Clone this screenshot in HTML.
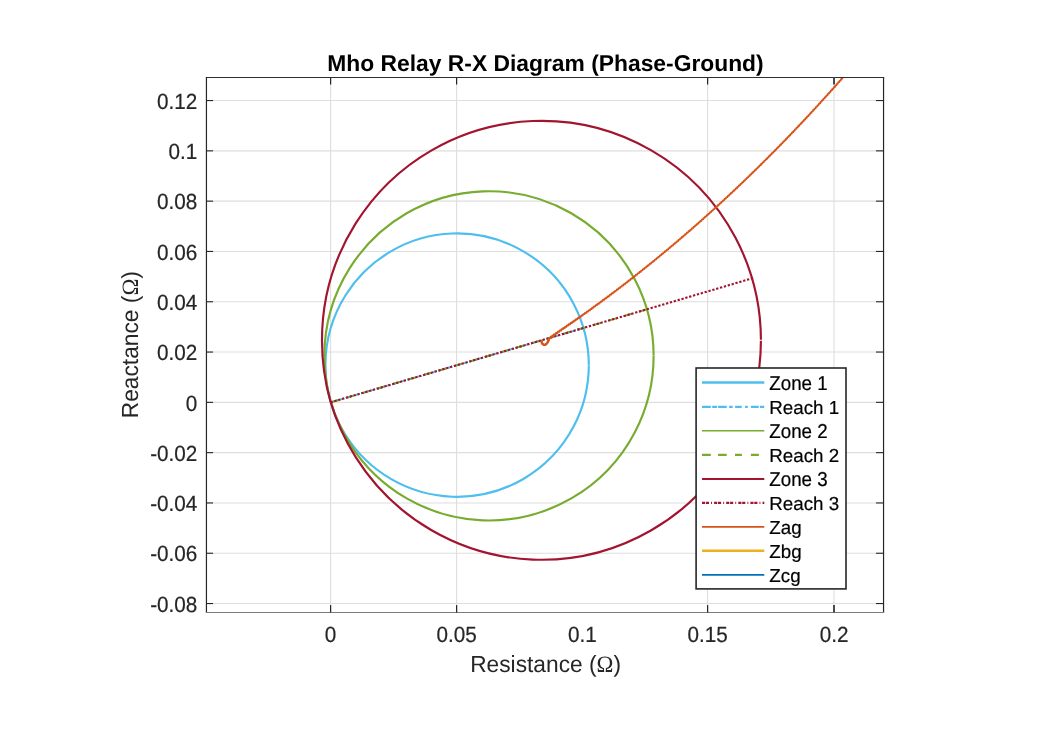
<!DOCTYPE html>
<html><head><meta charset="utf-8"><title>Mho Relay R-X Diagram (Phase-Ground)</title>
<style>
html,body{margin:0;padding:0;background:#fff;}
body{width:1061px;height:748px;overflow:hidden;}
svg{display:block;}
text{font-family:"Liberation Sans",Arial,Helvetica,sans-serif;fill:#262626;text-rendering:geometricPrecision;}
.tk{font-size:20.7px;stroke:#262626;stroke-width:0.2px;}
.lb{font-size:22.75px;}
.om{font-family:"Liberation Serif","DejaVu Serif",serif;}
.tt{font-size:22.83px;font-weight:bold;fill:#000;}
.lg{font-size:18.75px;fill:#000;stroke:#000;stroke-width:0.2px;}
</style></head><body>
<svg width="1061" height="748" viewBox="0 0 1061 748">
<rect x="0" y="0" width="1061" height="748" fill="#fff"/>
<defs><clipPath id="ax"><rect x="206.45" y="77.5" width="677.0999999999999" height="535.0"/></clipPath></defs>

<g stroke="#dedede" stroke-width="1.1" fill="none">
<line x1="330.60" y1="77.5" x2="330.60" y2="612.5"/>
<line x1="456.60" y1="77.5" x2="456.60" y2="612.5"/>
<line x1="707.60" y1="77.5" x2="707.60" y2="612.5"/>
<line x1="834.00" y1="77.5" x2="834.00" y2="612.5"/>
<line x1="206.45" y1="603.55" x2="883.55" y2="603.55"/>
<line x1="206.45" y1="553.25" x2="883.55" y2="553.25"/>
<line x1="206.45" y1="502.95" x2="883.55" y2="502.95"/>
<line x1="206.45" y1="452.65" x2="883.55" y2="452.65"/>
<line x1="206.45" y1="402.35" x2="883.55" y2="402.35"/>
<line x1="206.45" y1="352.05" x2="883.55" y2="352.05"/>
<line x1="206.45" y1="301.75" x2="883.55" y2="301.75"/>
<line x1="206.45" y1="251.45" x2="883.55" y2="251.45"/>
<line x1="206.45" y1="201.15" x2="883.55" y2="201.15"/>
<line x1="206.45" y1="150.85" x2="883.55" y2="150.85"/>
<line x1="206.45" y1="100.55" x2="883.55" y2="100.55"/>
</g>
<g clip-path="url(#ax)" fill="none" stroke-linecap="butt" stroke-linejoin="round">
<path d="M588.81,365.03 A131.68,131.68 0 1 0 588.81,365.23" stroke="#4DBEEE" stroke-width="2.15"/>
<line x1="330.5" y1="402.4" x2="583.16" y2="328.06" stroke="#4DBEEE" stroke-width="1.9" stroke-dasharray="8.1 2 4 1.98"/>
<path d="M653.62,355.79 A164.61,164.61 0 1 0 653.62,355.89" stroke="#77AC30" stroke-width="2.15"/>
<line x1="330.5" y1="402.4" x2="646.33" y2="309.47" stroke="#77AC30" stroke-width="1.9" stroke-dasharray="8.5 7.58"/>
<path d="M760.92,339.80 A219.47,219.47 0 1 0 760.92,340.80" stroke="#A2142F" stroke-width="2.15"/>
<line x1="330.5" y1="402.4" x2="753.23" y2="278.02" stroke="#A2142F" stroke-width="2.1" stroke-dasharray="2.3 1.72"/>
<path d="M541.70,340.50 L541.61,341.59 L541.81,342.67 L542.30,343.64 L543.11,344.37 L544.09,344.85 L545.14,344.84 L546.06,344.29 L546.80,343.48 L547.43,342.58 L547.98,341.63 L548.41,340.61 L549.32,339.82 L548.84,338.30 L550.41,338.19 L550.53,336.65 L552.08,336.90 L552.35,335.37 L553.87,335.64 L554.16,334.13 L555.67,334.35 L555.96,332.86 L557.46,333.10 L557.80,331.63 L559.27,331.85 L559.62,330.41 L561.09,330.61 L561.45,329.18 L562.90,329.36 L563.27,327.95 L564.71,328.11 L565.09,326.71 L566.52,326.86 L566.91,325.48 L568.33,325.60 L568.72,324.23 L570.14,324.35 L570.54,322.99 L571.94,323.08 L572.35,321.74 L573.74,321.82 L574.15,320.49 L575.54,320.56 L575.96,319.23 L577.34,319.29 L577.76,317.98 L579.14,318.02 L579.57,316.71 L580.93,316.74 L581.37,315.45 L582.72,315.46 L583.16,314.18 L584.51,314.18 L584.96,312.91 L586.30,312.90 L586.75,311.63 L588.09,311.62 L588.54,310.36 L589.87,310.33 L590.33,309.08 L591.66,309.04 L592.11,307.79 L593.44,307.75 L593.90,306.51 L595.21,306.45 L595.68,305.21 L596.99,305.15 L597.46,303.92 L598.77,303.85 L599.23,302.62 L600.54,302.54 L601.01,301.33 L602.31,301.24 L602.78,300.02 L604.08,299.93 L604.55,298.72 L605.84,298.61 L606.32,297.41 L607.61,297.30 L608.08,296.10 L609.37,295.98 L609.85,294.78 L611.13,294.66 L611.61,293.47 L612.89,293.34 L613.37,292.15 L614.64,292.01 L615.12,290.82 L616.40,290.68 L616.88,289.50 L618.15,289.35 L618.63,288.17 L619.90,288.01 L620.38,286.83 L621.64,286.68 L622.13,285.50 L623.39,285.34 L623.87,284.16 L625.13,283.99 L625.62,282.82 L626.88,282.65 L627.36,281.48 L628.61,281.30 L629.10,280.13 L630.35,279.95 L630.84,278.78 L632.08,278.59 L632.57,277.43 L633.82,277.24 L634.30,276.07 L635.55,275.88 L636.03,274.71 L637.28,274.52 L637.76,273.36 L639.00,273.15 L639.49,271.99 L640.73,271.78 L641.21,270.63 L642.45,270.41 L642.93,269.26 L644.17,269.04 L644.65,267.88 L645.89,267.67 L646.37,266.51 L647.60,266.29 L648.08,265.13 L649.32,264.91 L649.80,263.75 L651.03,263.52 L651.51,262.37 L652.74,262.14 L653.21,260.98 L654.44,260.75 L654.92,259.59 L656.15,259.36 L656.63,258.20 L657.85,257.96 L658.33,256.81 L659.55,256.57 L660.03,255.41 L661.25,255.17 L661.72,254.01 L662.94,253.76 L663.42,252.61 L664.64,252.36 L665.11,251.21 L666.33,250.95 L666.80,249.80 L668.02,249.54 L668.49,248.39 L669.71,248.13 L670.18,246.98 L671.39,246.72 L671.86,245.57 L673.07,245.30 L673.54,244.15 L674.76,243.88 L675.22,242.73 L676.43,242.46 L676.90,241.30 L678.11,241.03 L678.58,239.88 L679.79,239.60 L680.25,238.45 L681.46,238.17 L681.92,237.02 L683.13,236.74 L683.59,235.59 L684.79,235.30 L685.25,234.15 L686.46,233.87 L686.92,232.71 L688.12,232.43 L688.58,231.27 L689.79,230.98 L690.24,229.83 L691.44,229.54 L691.90,228.38 L693.10,228.09 L693.55,226.94 L694.76,226.64 L695.21,225.49 L696.41,225.19 L696.86,224.03 L698.06,223.73 L698.51,222.58 L699.71,222.27 L700.15,221.12 L701.35,220.81 L701.80,219.66 L703.00,219.35 L703.44,218.19 L704.64,217.89 L705.08,216.73 L706.28,216.42 L706.72,215.26 L707.92,214.95 L708.36,213.79 L709.55,213.48 L709.99,212.32 L711.18,212.00 L711.62,210.84 L712.82,210.52 L713.25,209.37 L714.44,209.04 L714.88,207.89 L716.07,207.56 L716.50,206.40 L717.69,206.08 L718.12,204.92 L719.32,204.59 L719.75,203.43 L720.94,203.10 L721.36,201.94 L722.55,201.61 L722.98,200.45 L724.17,200.12 L724.59,198.95 L725.78,198.62 L726.21,197.46 L727.40,197.12 L727.82,195.96 L729.00,195.62 L729.42,194.46 L730.61,194.12 L731.03,192.96 L732.22,192.61 L732.63,191.45 L733.82,191.10 L734.23,189.94 L735.42,189.60 L735.83,188.43 L737.02,188.08 L737.43,186.92 L738.62,186.57 L739.02,185.40 L740.21,185.05 L740.62,183.88 L741.80,183.53 L742.21,182.37 L743.39,182.01 L743.79,180.84 L744.98,180.49 L745.38,179.32 L746.56,178.96 L746.96,177.79 L748.15,177.43 L748.55,176.26 L749.73,175.90 L750.13,174.73 L751.31,174.37 L751.70,173.20 L752.88,172.84 L753.28,171.67 L754.46,171.30 L754.85,170.13 L756.03,169.76 L756.42,168.59 L757.60,168.22 L757.99,167.05 L759.17,166.68 L759.56,165.50 L760.74,165.13 L761.12,163.96 L762.30,163.58 L762.69,162.41 L763.86,162.03 L764.25,160.86 L765.42,160.48 L765.80,159.31 L766.98,158.93 L767.36,157.75 L768.54,157.37 L768.91,156.20 L770.09,155.81 L770.47,154.64 L771.64,154.25 L772.02,153.08 L773.19,152.69 L773.56,151.51 L774.74,151.12 L775.11,149.95 L776.28,149.56 L776.65,148.38 L777.82,147.99 L778.19,146.81 L779.37,146.42 L779.73,145.24 L780.90,144.85 L781.27,143.67 L782.44,143.27 L782.81,142.09 L783.97,141.69 L784.34,140.51 L785.51,140.11 L785.87,138.93 L787.04,138.53 L787.40,137.35 L788.57,136.95 L788.92,135.77 L790.09,135.37 L790.45,134.18 L791.62,133.78 L791.97,132.60 L793.14,132.19 L793.49,131.01 L794.66,130.60 L795.01,129.41 L796.17,129.00 L796.53,127.82 L797.69,127.41 L798.04,126.23 L799.20,125.81 L799.55,124.63 L800.72,124.21 L801.06,123.03 L802.23,122.61 L802.57,121.43 L803.73,121.01 L804.08,119.82 L805.24,119.41 L805.58,118.22 L806.74,117.80 L807.08,116.61 L808.24,116.19 L808.58,115.00 L809.74,114.58 L810.08,113.39 L811.24,112.97 L811.58,111.78 L812.73,111.35 L813.07,110.16 L814.23,109.73 L814.56,108.55 L815.72,108.12 L816.05,106.93 L817.21,106.50 L817.54,105.31 L818.69,104.87 L819.02,103.68 L820.18,103.25 L820.51,102.06 L821.66,101.62 L821.99,100.43 L823.14,100.00 L823.47,98.81 L824.62,98.37 L824.94,97.18 L826.10,96.74 L826.42,95.54 L827.57,95.10 L827.89,93.91 L829.04,93.47 L829.36,92.28 L830.51,91.83 L830.83,90.64 L831.98,90.19 L832.30,89.00 L833.45,88.55 L833.76,87.36 L834.92,86.91 L835.23,85.72 L836.38,85.27 L836.69,84.07 L837.84,83.62 L838.15,82.43 L839.30,81.97 L839.60,80.78 L840.75,80.32 L841.06,79.13 L842.21,78.67 L842.51,77.48 L843.66,77.02 L843.96,75.82 L845.11,75.37 L845.41,74.17 L846.56,73.71 L846.86,72.51 L848.01,72.05 L848.31,70.85 L849.45,70.39 L849.75,69.20" stroke="#D95319" stroke-width="1.85"/>
<path d="M541.70,340.50 L541.61,341.59 L541.81,342.67 L542.30,343.64 L543.11,344.37 L544.09,344.85 L545.14,344.84 L546.06,344.29 L546.80,343.48 L547.43,342.58 L547.98,341.63 L548.41,340.61 L549.32,339.82" stroke="#D95319" stroke-width="2.4"/>
</g>
<g stroke="#262626" stroke-width="1.1" fill="none">
<line x1="206.45" y1="76.9" x2="206.45" y2="612.9" stroke-width="1.2"/>
<line x1="883.55" y1="76.9" x2="883.55" y2="612.9" stroke-width="1.2"/>
<line x1="205.85" y1="77.5" x2="884.15" y2="77.5" stroke-width="1.2" stroke="#2e2e2e"/>
<line x1="205.95" y1="612.5" x2="884.05" y2="612.5" stroke-width="1" stroke="#7d7d7d"/>
<line x1="330.60" y1="612.5" x2="330.60" y2="605.1" stroke-width="1.25" stroke="#262626"/>
<line x1="330.60" y1="77.5" x2="330.60" y2="84.5" stroke-width="1.25" stroke="#262626"/>
<line x1="456.60" y1="612.5" x2="456.60" y2="605.1" stroke-width="1.25" stroke="#262626"/>
<line x1="456.60" y1="77.5" x2="456.60" y2="84.5" stroke-width="1.25" stroke="#262626"/>
<line x1="707.60" y1="612.5" x2="707.60" y2="605.1" stroke-width="1.25" stroke="#262626"/>
<line x1="707.60" y1="77.5" x2="707.60" y2="84.5" stroke-width="1.25" stroke="#262626"/>
<line x1="834.00" y1="612.5" x2="834.00" y2="605.1" stroke-width="2.0" stroke="#4a4a4a"/>
<line x1="834.00" y1="77.5" x2="834.00" y2="84.5" stroke-width="2.0" stroke="#4a4a4a"/>
<line x1="206.45" y1="603.55" x2="213.04999999999998" y2="603.55"/>
<line x1="883.55" y1="603.55" x2="876.05" y2="603.55"/>
<line x1="206.45" y1="553.25" x2="213.04999999999998" y2="553.25"/>
<line x1="883.55" y1="553.25" x2="876.05" y2="553.25"/>
<line x1="206.45" y1="502.95" x2="213.04999999999998" y2="502.95"/>
<line x1="883.55" y1="502.95" x2="876.05" y2="502.95"/>
<line x1="206.45" y1="452.65" x2="213.04999999999998" y2="452.65"/>
<line x1="883.55" y1="452.65" x2="876.05" y2="452.65"/>
<line x1="206.45" y1="402.35" x2="213.04999999999998" y2="402.35"/>
<line x1="883.55" y1="402.35" x2="876.05" y2="402.35"/>
<line x1="206.45" y1="352.05" x2="213.04999999999998" y2="352.05"/>
<line x1="883.55" y1="352.05" x2="876.05" y2="352.05"/>
<line x1="206.45" y1="301.75" x2="213.04999999999998" y2="301.75"/>
<line x1="883.55" y1="301.75" x2="876.05" y2="301.75"/>
<line x1="206.45" y1="251.45" x2="213.04999999999998" y2="251.45"/>
<line x1="883.55" y1="251.45" x2="876.05" y2="251.45"/>
<line x1="206.45" y1="201.15" x2="213.04999999999998" y2="201.15"/>
<line x1="883.55" y1="201.15" x2="876.05" y2="201.15"/>
<line x1="206.45" y1="150.85" x2="213.04999999999998" y2="150.85"/>
<line x1="883.55" y1="150.85" x2="876.05" y2="150.85"/>
<line x1="206.45" y1="100.55" x2="213.04999999999998" y2="100.55"/>
<line x1="883.55" y1="100.55" x2="876.05" y2="100.55"/>
</g>
<text class="tk" transform="translate(330.60,641.9) scale(1,1.06)" text-anchor="middle">0</text>
<text class="tk" transform="translate(456.60,641.9) scale(1,1.06)" text-anchor="middle">0.05</text>
<text class="tk" transform="translate(582.30,641.9) scale(1,1.06)" text-anchor="middle">0.1</text>
<text class="tk" transform="translate(707.60,641.9) scale(1,1.06)" text-anchor="middle">0.15</text>
<text class="tk" transform="translate(834.00,641.9) scale(1,1.06)" text-anchor="middle">0.2</text>
<text class="tk" transform="translate(197.3,611.75) scale(1,1.06)" text-anchor="end">-0.08</text>
<text class="tk" transform="translate(197.3,561.45) scale(1,1.06)" text-anchor="end">-0.06</text>
<text class="tk" transform="translate(197.3,511.15) scale(1,1.06)" text-anchor="end">-0.04</text>
<text class="tk" transform="translate(197.3,460.85) scale(1,1.06)" text-anchor="end">-0.02</text>
<text class="tk" transform="translate(197.3,410.55) scale(1,1.06)" text-anchor="end">0</text>
<text class="tk" transform="translate(197.3,360.25) scale(1,1.06)" text-anchor="end">0.02</text>
<text class="tk" transform="translate(197.3,309.95) scale(1,1.06)" text-anchor="end">0.04</text>
<text class="tk" transform="translate(197.3,259.65) scale(1,1.06)" text-anchor="end">0.06</text>
<text class="tk" transform="translate(197.3,209.35) scale(1,1.06)" text-anchor="end">0.08</text>
<text class="tk" transform="translate(197.3,159.05) scale(1,1.06)" text-anchor="end">0.1</text>
<text class="tk" transform="translate(197.3,108.75) scale(1,1.06)" text-anchor="end">0.12</text>
<text class="lb" transform="translate(545.6,671.6) scale(1,1.025)" text-anchor="middle">Resistance (<tspan class="om">Ω</tspan>)</text>
<text class="lb" transform="translate(138.3,344.7) rotate(-90) scale(1,1.025)" text-anchor="middle">Reactance (<tspan class="om">Ω</tspan>)</text>
<text class="tt" transform="translate(545.5,71)" text-anchor="middle">Mho Relay R-X Diagram (Phase-Ground)</text>
<rect x="696.1" y="368.0" width="149.9" height="220.9" fill="#fff" stroke="#262626" stroke-width="1.6"/>
<line x1="702" y1="382.5" x2="764.3" y2="382.5" stroke="#4DBEEE" stroke-width="2.6"/>
<text class="lg" transform="translate(769.3,389.95) scale(1,1.075)">Zone 1</text>
<line x1="702" y1="406.9" x2="764.3" y2="406.9" stroke="#4DBEEE" stroke-width="2.2" stroke-dasharray="8.8 1.4 4.7 1.2 8.6 2.4 3.6 2.4 6.6 3.4 2.7 3.1 7.8 1.3 4.2 9"/>
<text class="lg" transform="translate(769.3,414.05) scale(1,1.0)">Reach 1</text>
<line x1="702" y1="430.8" x2="764.3" y2="430.8" stroke="#77AC30" stroke-width="1.5"/>
<text class="lg" transform="translate(769.3,438.25) scale(1,1.075)">Zone 2</text>
<line x1="702" y1="454.9" x2="764.3" y2="454.9" stroke="#77AC30" stroke-width="2.3" stroke-dasharray="8.8 7.3 8.6 8.3 6.9 9 8 20"/>
<text class="lg" transform="translate(769.3,462.05) scale(1,1.0)">Reach 2</text>
<line x1="702" y1="479.0" x2="764.3" y2="479.0" stroke="#A2142F" stroke-width="1.9"/>
<text class="lg" transform="translate(769.3,486.45) scale(1,1.075)">Zone 3</text>
<line x1="702" y1="502.9" x2="764.3" y2="502.9" stroke="#A2142F" stroke-width="2.2" stroke-dasharray="3.1 0.8 3.1 2.1 0.9 2.1"/>
<text class="lg" transform="translate(769.3,510.05) scale(1,1.0)">Reach 3</text>
<line x1="702" y1="526.9" x2="764.3" y2="526.9" stroke="#D95319" stroke-width="1.9"/>
<text class="lg" transform="translate(769.3,534.40) scale(1,1.01)">Zag</text>
<line x1="702" y1="550.7" x2="764.3" y2="550.7" stroke="#EDB120" stroke-width="2.4"/>
<text class="lg" transform="translate(769.3,557.90) scale(1,1.0)">Zbg</text>
<line x1="702" y1="574.9" x2="764.3" y2="574.9" stroke="#0072BD" stroke-width="1.9"/>
<text class="lg" transform="translate(769.3,582.40) scale(1,1.0)">Zcg</text>
</svg></body></html>
